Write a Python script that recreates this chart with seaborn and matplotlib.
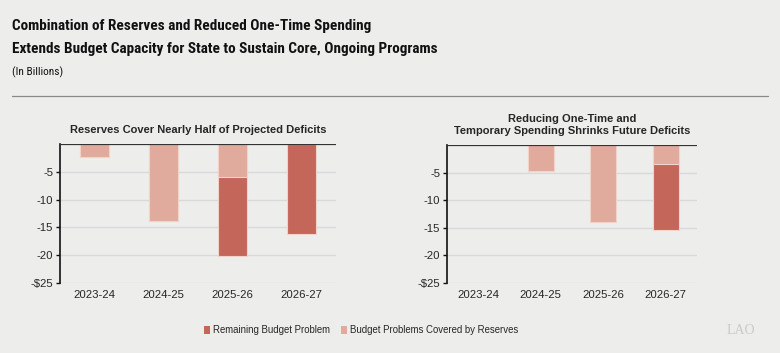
import matplotlib
matplotlib.use("Agg")
import matplotlib.pyplot as plt
import seaborn as sns
import pandas as pd
from matplotlib.patches import Patch
from matplotlib import font_manager

years = ["2023-24", "2024-25", "2025-26", "2026-27"]
left_covered = [2.4, 13.9, 6.0, 0.0]
left_remaining = [0.0, 0.0, 14.1, 16.2]
right_covered = [0.0, 4.7, 13.9, 3.5]
right_remaining = [0.0, 0.0, 0.0, 11.9]
y_ticks = [-5, -10, -15, -20, -25]
y_ticklabels = ["-5", "-10", "-15", "-20", "-$25"]
title_lines = ["Combination of Reserves and Reduced One-Time Spending",
               "Extends Budget Capacity for State to Sustain Core, Ongoing Programs"]
subtitle = "(In Billions)"
left_title = "Reserves Cover Nearly Half of Projected Deficits"
right_title = "Reducing One-Time and\nTemporary Spending Shrinks Future Deficits"
legend_labels = ["Remaining Budget Problem", "Budget Problems Covered by Reserves"]

BG = "#EDEEEC"
DARK = "#C5665A"
LIGHT = "#E0AA9C"
EDGE = "#F2D3CA"

installed = {f.name for f in font_manager.fontManager.ttflist}
narrow_candidates = ["Liberation Sans Narrow", "Arial Narrow", "Roboto Condensed",
                     "PT Sans Narrow", "Archivo Narrow", "Open Sans Condensed",
                     "Fira Sans Condensed", "IBM Plex Sans Condensed"]
narrow = next((n for n in narrow_candidates if n in installed), None)
NARROW = [narrow, "Liberation Sans", "DejaVu Sans"] if narrow else ["Liberation Sans", "DejaVu Sans"]

sns.set_theme(style="white")
plt.rcParams["font.family"] = ["Liberation Sans", "DejaVu Sans"]

fig = plt.figure(figsize=(7.8, 3.53), dpi=100, facecolor=BG)

def draw(ax, covered, remaining, title):
    df = pd.DataFrame({
        "year": years,
        "total": [-(c + r) for c, r in zip(covered, remaining)],
        "covered": [-c for c in covered],
    })
    ax.set_facecolor(BG)
    sns.barplot(data=df, x="year", y="total", color=DARK, width=0.41,
                edgecolor=EDGE, linewidth=0.8, saturation=1, ax=ax, zorder=3)
    sns.barplot(data=df, x="year", y="covered", color=LIGHT, width=0.41,
                edgecolor=EDGE, linewidth=0.8, saturation=1, ax=ax, zorder=3)
    ax.set_xlim(-0.5, 3.5)
    ax.set_ylim(-25, 0)
    ax.set_yticks(y_ticks)
    ax.set_yticklabels(y_ticklabels)
    for v in y_ticks:
        ax.axhline(v, color="#D8D9D8", lw=1.0, zorder=1)
    ax.axhline(0, color="#333333", lw=1.6, zorder=5)
    for s in ["top", "right", "bottom"]:
        ax.spines[s].set_visible(False)
    ax.spines["left"].set_color("#111111")
    ax.spines["left"].set_linewidth(1.2)
    ax.tick_params(axis="y", length=3, width=1, color="#111111", labelsize=8.2,
                   pad=2, left=True)
    ax.tick_params(axis="x", length=0, labelsize=8.2, pad=5)
    ax.set_xlabel("")
    ax.set_ylabel("")
    ax.set_title(title, fontsize=8.0, fontweight="bold", pad=8, linespacing=1.2)

ax1 = fig.add_axes([60 / 780, 1 - 283 / 353, 276 / 780, 139 / 353])
draw(ax1, left_covered, left_remaining, left_title)
ax2 = fig.add_axes([447 / 780, 1 - 283 / 353, 250 / 780, 138 / 353])
draw(ax2, right_covered, right_remaining, right_title)

fig.text(12 / 780, 1 - 26 / 353, title_lines[0], family=NARROW,
         fontsize=11.0, fontweight="bold", va="center", ha="left", color="#111111")
fig.text(12 / 780, 1 - 49 / 353, title_lines[1], family=NARROW,
         fontsize=11.0, fontweight="bold", va="center", ha="left", color="#111111")
fig.text(12 / 780, 1 - 72 / 353, subtitle, family=NARROW, fontsize=8.2,
         va="center", ha="left", color="#111111")
fig.add_artist(plt.Line2D([12 / 780, 768 / 780], [1 - 96 / 353, 1 - 96 / 353],
                          color="#8A8A8A", lw=0.9))

handles = [Patch(facecolor=DARK, edgecolor="none"), Patch(facecolor=LIGHT, edgecolor="none")]
fig.legend(handles, legend_labels, loc="center", bbox_to_anchor=(361 / 780, 1 - 330 / 353),
           ncol=2, frameon=False, fontsize=6.9, handlelength=0.6, handleheight=0.9,
           handletextpad=0.3, columnspacing=1.2)

fig.text(755 / 780, 1 - 330 / 353, "LAO", fontsize=10, family=["Liberation Serif", "DejaVu Serif"],
         color="#C9C9C9", ha="right", va="center")

fig.savefig("out.png", dpi=100, facecolor=BG)
